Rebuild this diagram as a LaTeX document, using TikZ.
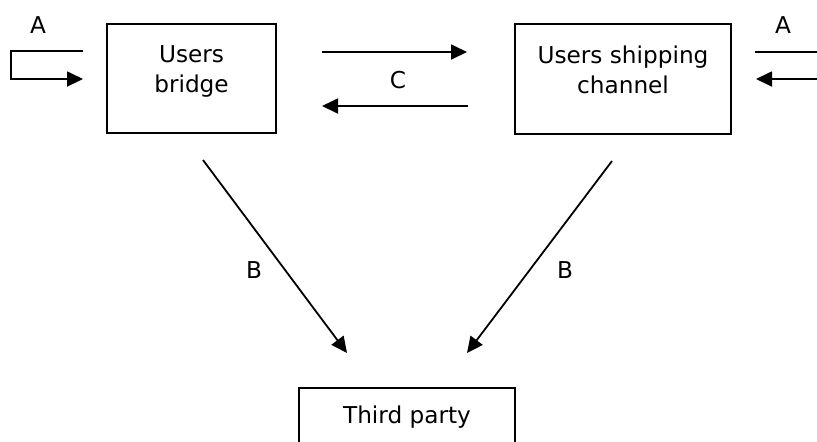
\documentclass[tikz,border=0pt]{standalone}
\usepackage{fontspec}
\setmainfont{DejaVu Sans}
\usetikzlibrary{positioning,arrows.meta}

\begin{document}
\begin{tikzpicture}[x=0.5pt, y=-0.5pt, line width=0.9pt,
  font=\fontsize{11.6}{15}\selectfont,
  box/.style={draw, rectangle, inner sep=0pt},
  txt/.style={align=center, inner sep=0pt},
  arr/.style={-{Triangle[length=8pt,width=7.5pt]}}]
\clip (0,0) rectangle (817,441);
% the three parties
\node[box, minimum width=84.5pt, minimum height=54.5pt] (UB) at (191.5,78.5) {};
\node[box, minimum width=108pt, minimum height=55pt] (USC) at (623,79) {};
\node[box, minimum width=108pt, minimum height=30pt] (TP) at (407,418) {};
\node[txt, anchor=north] (UBt) at (191.5,45) {Users\\bridge};
\node[txt, anchor=north] (USCt) at (623,45) {Users shipping\\channel};
\node[txt, anchor=base] (TPt) at (407,423) {Third party};
% end points of the flows
\coordinate (a1) at (83,51);  \coordinate (a2) at (11,51);
\coordinate (a3) at (11,79);  \coordinate (a4) at (83,79);
\coordinate (a5) at (830,52); \coordinate (a6) at (755,52);
\coordinate (a7) at (830,79); \coordinate (a8) at (756,79);
\coordinate (c1) at (322,52);  \coordinate (c2) at (467,52);
\coordinate (c3) at (468,106); \coordinate (c4) at (322,106);
\coordinate (b1) at (203,160); \coordinate (b2) at (347,353);
\coordinate (b3) at (612,161); \coordinate (b4) at (467,353);
% flow A
\draw[arr] (a1) -- (a2) -- (a3) -- (a4);
\draw (a5) -- (a6);
\draw[arr] (a7) -- (a8);
\node (Al) at (38,25) {A};
\node (Ar) at (783,25) {A};
% flow C
\draw[arr] (c1) -- (c2);
\draw[arr] (c3) -- (c4);
\node (C) at (398,80) {C};
% flow B
\draw[arr] (b1) -- (b2);
\draw[arr] (b3) -- (b4);
\node (Bl) at (254,270) {B};
\node (Br) at (565,270) {B};
\end{tikzpicture}
\end{document}
